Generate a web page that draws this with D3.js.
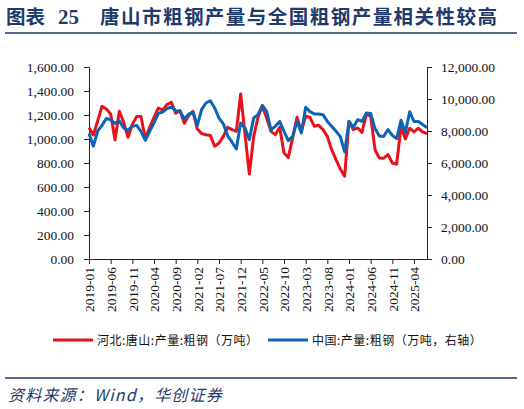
<!DOCTYPE html>
<html>
<head>
<meta charset="utf-8">
<script src="https://cdn.jsdelivr.net/npm/d3@7"></script>
<style>
  body { margin: 0; background: #fff; }
  svg { display: block; }
</style>
</head>
<body>
<div id="chart"></div>
<script>
const width = 524;
const height = 409;

// monthly categories 2019-01 .. 2025-07
const months = d3.timeMonth.range(new Date(2019, 0, 1), new Date(2025, 7, 1)).map(d3.timeFormat("%Y-%m"));

const tickLabels = ["2019-01", "2019-06", "2019-11", "2020-04", "2020-09", "2021-02", "2021-07", "2021-12",
  "2022-05", "2022-10", "2023-03", "2023-08", "2024-01", "2024-06", "2024-11", "2025-04"];

const leftTicks = [0, 200, 400, 600, 800, 1000, 1200, 1400, 1600];
const rightTicks = [0, 2000, 4000, 6000, 8000, 10000, 12000];

// 河北:唐山:产量:粗钢 (万吨), left axis
const tangshan = [1094, 1033, 1150, 1272, 1250, 1208, 992, 1231, 1139, 1014, 1120, 1187, 1187, 1000, 1097, 1180,
  1258, 1242, 1287, 1306, 1214, 1237, 1131, 1195, 1231, 1083, 1045, 1035, 1030, 940, 967, 1022, 1097, 1078, 1064,
  1375, 1040, 708, 1020, 1181, 1272, 1175, 1064, 1036, 1097, 883, 847, 1008, 1181, 1064, 1189, 1181, 1106, 1114,
  1078, 1022, 911, 828, 750, 690, 1147, 1078, 1092, 1055, 1208, 1189, 911, 842, 840, 870, 800, 790, 1100, 1000,
  1090, 1060, 1090, 1060, 1045];

// 中国:产量:粗钢 (万吨), right axis
const china = [7850, 7050, 8000, 8350, 8780, 8700, 8480, 8640, 8190, 8050, 8290, 8350, 7980, 7420, 7980, 8500,
  9100, 9190, 9400, 9500, 9270, 9230, 8750, 9050, 9190, 8350, 9350, 9750, 9890, 9440, 8810, 8450, 7700, 7300, 6880,
  8500, 8190, 7460, 8810, 9020, 9600, 9230, 8080, 8290, 8600, 7980, 7400, 7670, 8600, 7880, 9480, 9210, 9060, 9060,
  9020, 8600, 8290, 7980, 7650, 6690, 8600, 8230, 8710, 8600, 9130, 9100, 8150, 7680, 7660, 8090, 7730, 7520, 8670,
  7900, 9200, 8600, 8590, 8400, 8200];

const seriesNames = ["河北:唐山:产量:粗钢（万吨）", "中国:产量:粗钢（万吨，右轴）"];
const red = "#E8121B";
const blue = "#0B64B6";
const navy = "#1F3A6B";

const plotLeft = 89, plotRight = 427, plotTop = 67, plotBottom = 259;

const svg = d3.select("#chart")
  .append("svg")
  .attr("width", width)
  .attr("height", height);

// title
svg.append("text")
  .attr("x", 6).attr("y", 24)
  .attr("textLength", 39)
  .attr("lengthAdjust", "spacing")
  .style("font-family", "'Noto Sans CJK SC'")
  .style("font-weight", 700)
  .style("font-size", "19.5px")
  .attr("fill", navy)
  .text("图表");
svg.append("text")
  .attr("x", 58).attr("y", 24)
  .style("font-family", "'Liberation Serif'")
  .style("font-weight", 700)
  .style("font-size", "21px")
  .attr("fill", navy)
  .text("25");
svg.append("text")
  .attr("x", 100).attr("y", 24)
  .attr("textLength", 397)
  .attr("lengthAdjust", "spacing")
  .style("font-family", "'Noto Sans CJK SC'")
  .style("font-weight", 700)
  .style("font-size", "19.5px")
  .attr("fill", navy)
  .text("唐山市粗钢产量与全国粗钢产量相关性较高");

svg.append("line")
  .attr("x1", 5).attr("x2", 517).attr("y1", 33).attr("y2", 33)
  .attr("stroke", navy).attr("stroke-width", 1.5);

const xScale = d3.scalePoint()
  .domain(months)
  .range([plotLeft, plotRight]);

const yLeft = d3.scaleLinear()
  .domain([0, 1600])
  .range([plotBottom, plotTop]);

const yRight = d3.scaleLinear()
  .domain([0, 12000])
  .range([plotBottom, plotTop]);

const fmt = d3.format(",.2f");

function styleAxis(g) {
  g.select(".domain").attr("stroke", "#222");
  g.selectAll(".tick line").attr("stroke", "#222");
  g.selectAll(".tick text")
    .attr("fill", "#111")
    .style("font-family", "'Liberation Serif'")
    .style("font-size", "13.5px");
}

const leftAxis = d3.axisLeft(yLeft).tickValues(leftTicks).tickFormat(fmt).tickSize(5).tickSizeOuter(5).tickPadding(10);
svg.append("g")
  .attr("id", "y-axis-left")
  .attr("transform", `translate(${plotLeft}, 0)`)
  .call(leftAxis)
  .call(styleAxis);

const rightAxis = d3.axisRight(yRight).tickValues(rightTicks).tickFormat(fmt).tickSize(5).tickSizeOuter(5).tickPadding(9);
svg.append("g")
  .attr("id", "y-axis-right")
  .attr("transform", `translate(${plotRight}, 0)`)
  .call(rightAxis)
  .call(styleAxis);

const xAxis = d3.axisBottom(xScale).tickValues(tickLabels).tickSize(5).tickSizeOuter(0).tickPadding(4);
const xg = svg.append("g")
  .attr("id", "x-axis")
  .attr("transform", `translate(0, ${plotBottom})`)
  .call(xAxis)
  .call(styleAxis);
xg.selectAll(".tick text")
  .attr("text-anchor", "end")
  .attr("transform", "rotate(-90)")
  .attr("x", -8)
  .attr("y", 0)
  .attr("dy", "0.35em");

// lines
const redLine = d3.line()
  .x((d, i) => xScale(months[i]))
  .y(d => yLeft(d));
const blueLine = d3.line()
  .x((d, i) => xScale(months[i]))
  .y(d => yRight(d));

svg.append("path")
  .datum(tangshan)
  .attr("d", redLine)
  .attr("fill", "none")
  .attr("stroke", red)
  .attr("stroke-width", 3)
  .attr("stroke-linejoin", "round");

svg.append("path")
  .datum(china)
  .attr("d", blueLine)
  .attr("fill", "none")
  .attr("stroke", blue)
  .attr("stroke-width", 3)
  .attr("stroke-linejoin", "round");

// legend
const legend = svg.append("g").attr("id", "legend");
const legendItems = [
  {name: seriesNames[0], color: red, x: 53},
  {name: seriesNames[1], color: blue, x: 268}
];
legendItems.forEach(item => {
  legend.append("line")
    .attr("x1", item.x).attr("x2", item.x + 40)
    .attr("y1", 340).attr("y2", 340)
    .attr("stroke", item.color).attr("stroke-width", 3);
  legend.append("text")
    .attr("x", item.x + 44).attr("y", 344.5)
    .style("font-family", "'Noto Sans CJK SC'")
    .style("font-size", "12px")
    .style("letter-spacing", "0.5px")
    .attr("fill", "#111")
    .text(item.name);
});

// source
svg.append("line")
  .attr("x1", 5).attr("x2", 517).attr("y1", 378).attr("y2", 378)
  .attr("stroke", navy).attr("stroke-width", 1.5);

svg.append("text")
  .attr("x", 8).attr("y", 401)
  .style("font-family", "'Noto Sans CJK SC'")
  .style("font-style", "italic")
  .style("font-size", "16px")
  .style("letter-spacing", "1.2px")
  .attr("fill", navy)
  .text("资料来源：Wind，华创证券");
</script>
</body>
</html>
